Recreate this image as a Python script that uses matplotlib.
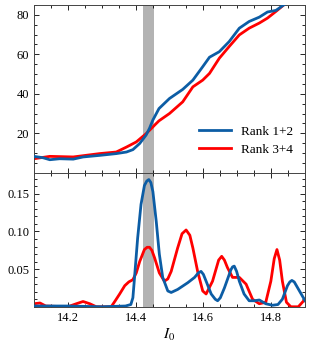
import matplotlib
matplotlib.use("Agg")
import matplotlib.pyplot as plt
from matplotlib.ticker import MultipleLocator

plt.rcParams['font.family'] = ['Liberation Serif', 'DejaVu Serif']
plt.rcParams['mathtext.fontset'] = 'stix'
plt.rcParams['font.size'] = 9

# ---- data ----
band = (14.422, 14.455)

top_x_blue = [14.100, 14.127, 14.147, 14.176, 14.216, 14.245, 14.294, 14.343, 14.373, 14.392,
              14.412, 14.431, 14.441, 14.451, 14.456, 14.469, 14.500, 14.539, 14.569, 14.598,
              14.618, 14.647, 14.676, 14.706, 14.735, 14.765, 14.789, 14.814, 14.838, 14.870]
top_y_blue = [8.3, 7.6, 6.6, 7.1, 6.9, 8.0, 8.8, 9.7, 10.5, 11.7,
              14.8, 19.1, 22.5, 26.7, 28.3, 32.5, 37.6, 42.2, 46.9, 53.7,
              58.5, 61.3, 66.4, 73.2, 76.6, 78.8, 81.4, 82.2, 85.1, 90.0]

top_x_red = [14.100, 14.147, 14.216, 14.294, 14.343, 14.373, 14.402, 14.431, 14.441, 14.451,
             14.456, 14.469, 14.500, 14.539, 14.569, 14.598, 14.618, 14.647, 14.676, 14.706,
             14.735, 14.765, 14.789, 14.814, 14.838, 14.870]
top_y_red = [7.1, 8.3, 8.0, 9.7, 10.5, 13.0, 15.6, 19.8, 21.5, 23.2,
             24.1, 26.3, 30.0, 35.9, 43.5, 46.9, 50.3, 58.0, 63.9, 69.8,
             73.2, 75.8, 78.3, 81.7, 85.1, 90.0]

bot_x_blue = [14.100, 14.200, 14.300, 14.370, 14.386, 14.392, 14.396, 14.406, 14.416, 14.426,
              14.433, 14.439, 14.445, 14.451, 14.461, 14.470, 14.480, 14.495, 14.505, 14.524,
              14.554, 14.574, 14.585, 14.593, 14.600, 14.608, 14.623, 14.635, 14.642, 14.650,
              14.662, 14.681, 14.686, 14.691, 14.698, 14.706, 14.720, 14.735, 14.750, 14.765,
              14.784, 14.804, 14.820, 14.833, 14.848, 14.855, 14.861, 14.868, 14.877, 14.900]
bot_y_blue = [0.001, 0.001, 0.000, 0.001, 0.003, 0.012, 0.034, 0.091, 0.136, 0.161,
              0.167, 0.169, 0.165, 0.153, 0.113, 0.070, 0.039, 0.021, 0.019, 0.023,
              0.032, 0.039, 0.045, 0.047, 0.043, 0.034, 0.017, 0.010, 0.008, 0.012,
              0.025, 0.049, 0.053, 0.054, 0.047, 0.034, 0.017, 0.008, 0.008, 0.009,
              0.004, 0.002, 0.003, 0.010, 0.028, 0.033, 0.035, 0.033, 0.026, 0.008]

bot_x_red = [14.100, 14.118, 14.135, 14.200, 14.225, 14.245, 14.265, 14.284, 14.328, 14.340,
             14.353, 14.368, 14.380, 14.392, 14.402, 14.412, 14.426, 14.434, 14.441, 14.448,
             14.456, 14.470, 14.485, 14.495, 14.505, 14.524, 14.537, 14.549, 14.560, 14.569,
             14.583, 14.598, 14.608, 14.627, 14.645, 14.654, 14.662, 14.671, 14.686, 14.706,
             14.726, 14.745, 14.765, 14.784, 14.799, 14.809, 14.817, 14.825, 14.833, 14.845,
             14.858, 14.880, 14.900]
bot_y_red = [0.004, 0.005, 0.001, 0.000, 0.004, 0.007, 0.004, 0.000, 0.000, 0.008,
             0.017, 0.028, 0.033, 0.036, 0.045, 0.060, 0.076, 0.079, 0.079, 0.075,
             0.065, 0.045, 0.034, 0.037, 0.047, 0.078, 0.097, 0.102, 0.095, 0.078,
             0.047, 0.021, 0.017, 0.034, 0.062, 0.067, 0.062, 0.052, 0.039, 0.039,
             0.030, 0.010, 0.004, 0.006, 0.034, 0.064, 0.076, 0.062, 0.034, 0.006,
             0.000, 0.000, 0.010]

labels = ['Rank 1+2', 'Rank 3+4']
blue = '#0C5DA5'
red = '#FF0000'

fig = plt.figure(figsize=(3.11, 3.49), dpi=100)
ax1 = fig.add_axes([0.109, 0.505, 0.872, 0.481])
ax2 = fig.add_axes([0.109, 0.121, 0.872, 0.384])

for ax in (ax1, ax2):
    ax.axvspan(band[0], band[1], color='#b3b3b3', lw=0, zorder=0)
    ax.set_xlim(14.1, 14.9)
    ax.xaxis.set_major_locator(MultipleLocator(0.2))
    ax.xaxis.set_minor_locator(MultipleLocator(0.05))
    ax.tick_params(which='both', direction='in', top=True, right=True, width=0.6)
    ax.tick_params(which='major', length=3.5)
    ax.tick_params(which='minor', length=2)
    for s in ax.spines.values():
        s.set_linewidth(0.7)
        s.set_color('#444444')

ax1.plot(top_x_blue, top_y_blue, color=blue, lw=2, label=labels[0], zorder=3,
         solid_joinstyle='round')
ax1.plot(top_x_red, top_y_red, color=red, lw=2, label=labels[1], zorder=2,
         solid_joinstyle='round')
ax1.set_ylim(0, 85)
ax1.yaxis.set_minor_locator(MultipleLocator(5))
ax1.set_yticks([20, 40, 60, 80])
ax1.tick_params(labelbottom=False)
ax1.legend(loc='lower right', frameon=False, handlelength=2.4, handletextpad=0.8,
           labelspacing=0.45, fontsize=9.5, bbox_to_anchor=(1.0, 0.03))

ax2.plot(bot_x_blue, bot_y_blue, color=blue, lw=2, zorder=3, solid_joinstyle='round')
ax2.plot(bot_x_red, bot_y_red, color=red, lw=2, zorder=2, solid_joinstyle='round')
ax2.set_ylim(0, 0.178)
ax2.set_yticks([0.05, 0.10, 0.15])
ax2.set_yticklabels(['0.05', '0.10', '0.15'])
ax2.yaxis.set_minor_locator(MultipleLocator(0.01))
ax2.set_xticks([14.2, 14.4, 14.6, 14.8])
ax2.set_xticklabels(['14.2', '14.4', '14.6', '14.8'])
ax2.set_xlabel('$I_0$', fontsize=11, labelpad=2)

fig.savefig('out.png', dpi=100)
